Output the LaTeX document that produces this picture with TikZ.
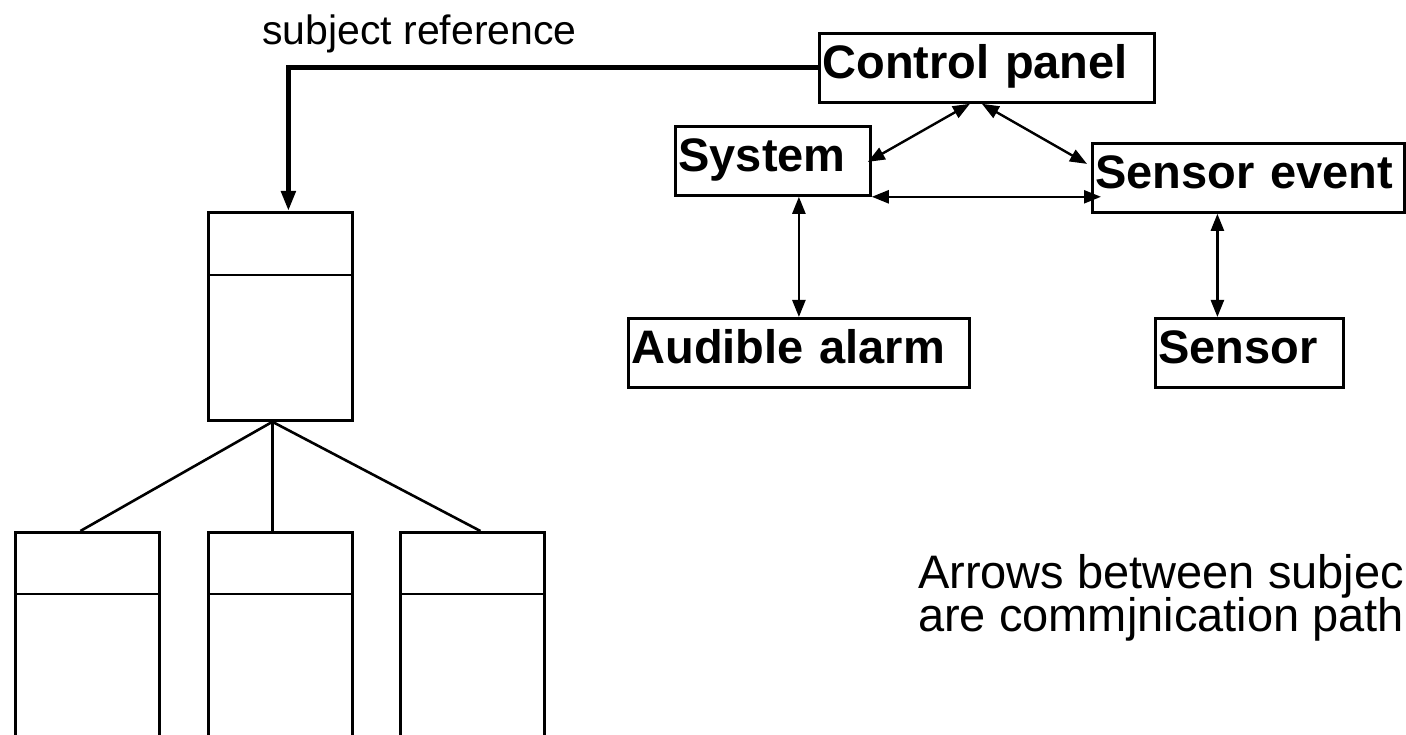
\documentclass[tikz,border=0pt]{standalone}
\usepackage{fontspec}
\setmainfont{Liberation Sans}
\usetikzlibrary{arrows.meta}
\begin{document}
\begin{tikzpicture}[x=1pt,y=-1pt,
  lbl/.style={draw, line width=2.8pt, anchor=north west, font=\fontsize{47}{56}\selectfont\bfseries, align=left, inner xsep=3pt, inner ysep=10pt, text height=35pt, text depth=14pt},
  cls/.style={draw, line width=2.8pt, anchor=north west, minimum width=144pt, inner sep=0pt},
  comm/.style={line width=2.4pt, {Triangle[length=17pt,width=13pt]}-{Triangle[length=17pt,width=13pt]}},
  tree/.style={line width=2.6pt},
  subref/.style={line width=4.8pt, -{Triangle[length=20pt,width=14pt]}},
  plain/.style={anchor=base west, inner sep=0pt}]
\useasboundingbox (0,0) rectangle (1406,735);
\clip (0,0) rectangle (1406,735);
% labelled subjects
\node[lbl, text width=329pt] (cp) at (818,32) {Control panel};
\node[lbl, text width=189pt] (sys) at (674,125) {System};
\node[lbl, text width=306pt] (sev) at (1091,142) {Sensor event};
\node[lbl, text width=335pt] (aud) at (627,317) {Audible alarm};
\node[lbl, text width=182pt] (sen) at (1154,317) {Sensor};
% class tree
\node[cls, minimum height=208pt] (top) at (207,211) {};
\node[cls, minimum height=260pt] (b1) at (14,531) {};
\node[cls, minimum height=260pt] (b2) at (207,531) {};
\node[cls, minimum height=260pt] (b3) at (399,531) {};
\draw[tree] ([yshift=-64pt]top.north west) -- ([yshift=-64pt]top.north east);
\foreach \b in {b1,b2,b3}
  \draw[tree] ([yshift=-63pt]\b.north west) -- ([yshift=-63pt]\b.north east);
\draw[tree] ([xshift=-8pt]top.south) -- ([xshift=-7pt]b1.north);
\draw[tree] ([xshift=-8pt]top.south) -- ([xshift=-8pt]b2.north);
\draw[tree] ([xshift=-8pt]top.south) -- ([xshift=8pt]b3.north);
% subject reference
\draw[subref] (cp.west) -| ([xshift=8pt]top.north);
\node[plain, font=\fontsize{41}{49}\selectfont] (subj) at (262,45) {subject reference};
% communication paths
\draw[comm] ([xshift=-17pt]cp.south) -- ([xshift=-4pt,yshift=-1pt]sys.east);
\draw[comm] ([xshift=-5pt]cp.south) -- ([xshift=-4pt,yshift=14pt]sev.west);
\draw[comm] (sys.south east) -- ([xshift=10pt]sev.west |- sys.south east);
\draw[comm] (aud.north) -- (aud.north |- sys.south);
\draw[comm] ([xshift=-32pt]sen.north) -- ([xshift=-32pt]sen.north |- sev.south);
% note
\node[plain, font=\fontsize{47}{56}\selectfont] (note1) at (918,588) {Arrows between subjec};
\node[plain, font=\fontsize{47}{56}\selectfont] (note2) at (918,631) {are commjnication path};
\end{tikzpicture}
\end{document}
